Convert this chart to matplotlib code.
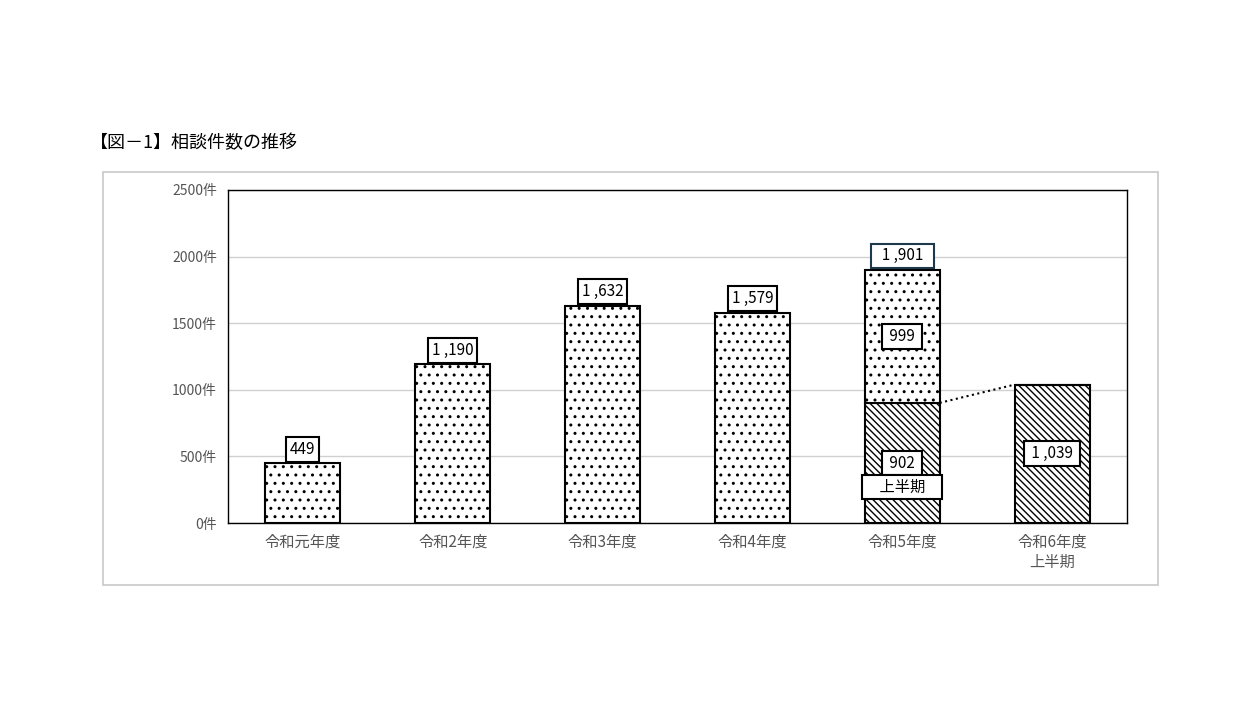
import matplotlib
matplotlib.use("Agg")
import matplotlib.pyplot as plt
from matplotlib.patches import Rectangle

plt.rcParams['font.family'] = ['Noto Sans CJK JP', 'DejaVu Sans']
plt.rcParams['hatch.linewidth'] = 1.0

categories = ["令和元年度", "令和2年度", "令和3年度", "令和4年度", "令和5年度", "令和6年度\n上半期"]
totals = [449, 1190, 1632, 1579, 1901, 1039]
first_half = [0, 0, 0, 0, 902, 1039]
second_half = [449, 1190, 1632, 1579, 999, 0]
yticks = [0, 500, 1000, 1500, 2000, 2500]

fig = plt.figure(figsize=(12.48, 7.02), dpi=100)
fig.patches.append(Rectangle((103/1248, 1-585/702), 1055/1248, 413/702, transform=fig.transFigure,
                             fill=False, edgecolor='#c8c8c8', lw=1.2))
fig.text(90/1248, 1-143/702, "【図－1】相談件数の推移", fontsize=13, va='center', ha='left')

ax = fig.add_axes([228/1248, 1-523/702, 899/1248, 333/702])
x = list(range(len(categories)))
ax.bar(x, first_half, width=0.5, color='white', edgecolor='black', hatch='\\\\\\\\\\', lw=1.5, zorder=3)
ax.bar(x, second_half, width=0.5, bottom=first_half, color='white', edgecolor='black', hatch='..', lw=1.5, zorder=3)
ax.set_xlim(-0.5, 5.5)
ax.set_ylim(0, 2500)
ax.set_yticks(yticks)
ax.set_yticklabels([f"{v}件" for v in yticks], color='#555555', fontsize=10)
ax.set_xticks(x)
ax.set_xticklabels(categories, color='#555555', fontsize=11)
ax.tick_params(length=0, pad=8)
ax.grid(axis='y', color='#d0d0d0', lw=1, zorder=0)
for s in ax.spines.values():
    s.set_color('black')
    s.set_linewidth(1.0)

def box(xc, y, txt, w=None, ec='black'):
    ax.text(xc, y, txt, ha='center', va='center', fontsize=11, zorder=6,
            bbox=dict(boxstyle='square,pad=0.25', fc='white', ec=ec, lw=1.5))

for i in range(4):
    box(i, totals[i] + 105, f"{totals[i]:,}".replace(",", " ,"))
box(4, 2005, "  1 ,901  ", ec='#1e3a4a')
box(4, 1400, " 999 ")
box(4, 450, " 902 ")
box(4, 270, "    上半期    ")
box(5, 520, " 1 ,039 ")
ax.plot([4.25, 4.75], [first_half[4], first_half[5]], ls=':', color='black', lw=1.5, zorder=4)

fig.savefig("out.png", dpi=100)
